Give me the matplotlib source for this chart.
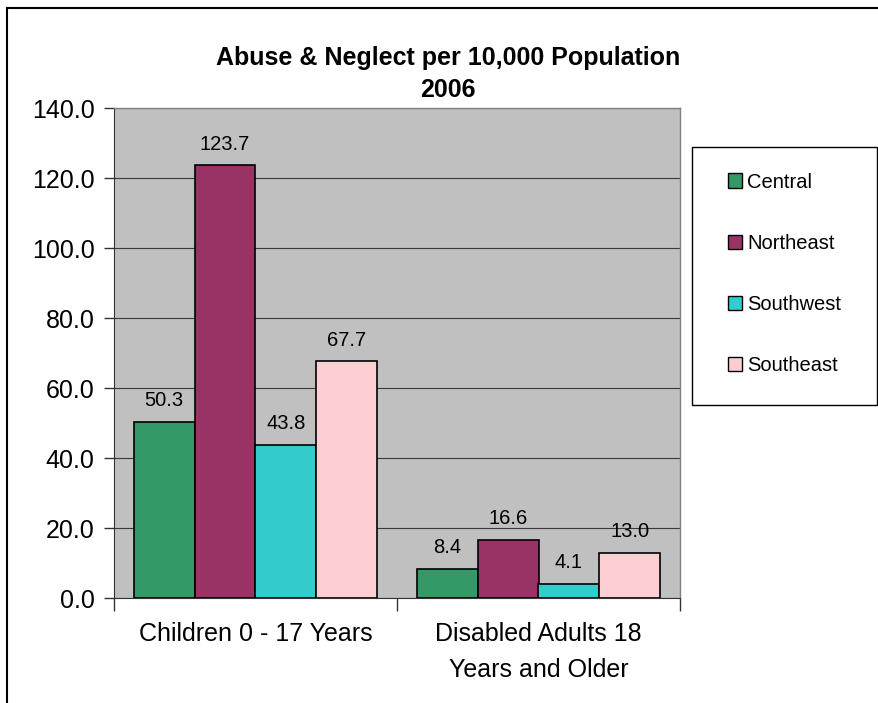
import matplotlib
matplotlib.use("Agg")
import matplotlib.pyplot as plt
from matplotlib.patches import Patch, Rectangle
from matplotlib.lines import Line2D
import numpy as np

plt.rcParams['font.family'] = ['Liberation Sans', 'DejaVu Sans']

categories = ["Children 0 - 17 Years", "Disabled Adults 18\nYears and Older"]
series_names = ["Central", "Northeast", "Southwest", "Southeast"]
values = {
    "Central": [50.3, 8.4],
    "Northeast": [123.7, 16.6],
    "Southwest": [43.8, 4.1],
    "Southeast": [67.7, 13.0],
}
colors = ["#339966", "#993366", "#33CCCC", "#FBCFD2"]
yticks = [0, 20, 40, 60, 80, 100, 120, 140]

fig = plt.figure(figsize=(8.79, 7.03), dpi=100)
ax = fig.add_axes([114/879, 1 - 598/703, (680-114)/879, (598-108)/703])
ax.set_facecolor("#C0C0C0")

x = np.arange(len(categories))
w = 0.215
for i, name in enumerate(series_names):
    pos = x + (i - 1.5) * w
    bars = ax.bar(pos, values[name], width=w, color=colors[i], edgecolor="black", linewidth=1.2, zorder=3)
    for b, v in zip(bars, values[name]):
        ax.text(b.get_x() + b.get_width()/2, v + 3.3, f"{v:.1f}", ha="center", va="bottom", fontsize=14.5, zorder=4)

ax.set_xlim(-0.5, 1.5)
ax.set_ylim(0, 140)
ax.set_yticks(yticks)
ax.set_yticklabels([f"{t:.1f}" for t in yticks], fontsize=18)
ax.yaxis.grid(True, color="#000000", linewidth=0.8, alpha=0.7, zorder=0)
ax.set_axisbelow(True)
ax.tick_params(axis="y", direction="out", length=7, width=1, color="#333333", pad=7)

ax.set_xticks(x)
ax.set_xticklabels(categories, fontsize=18, linespacing=1.65)
ax.tick_params(axis="x", which="major", length=0, pad=17)
ax.set_xticks([-0.5, 0.5, 1.5], minor=True)
ax.tick_params(axis="x", which="minor", direction="out", length=9, width=1, color="#333333")

for s in ["top", "right"]:
    ax.spines[s].set_color("#808080")
    ax.spines[s].set_linewidth(1)
ax.spines["left"].set_color("#333333")
ax.spines["bottom"].set_color("#333333")

fig.text(448/879, 1 - 58/703, "Abuse & Neglect per 10,000 Population", ha="center", va="center",
         fontsize=18, fontweight="bold")
fig.text(448/879, 1 - 90/703, "2006", ha="center", va="center", fontsize=18, fontweight="bold")

# legend box
fig.add_artist(Rectangle((692/879, 1 - 405/703), (877-692)/879, (405-147)/703,
                         transform=fig.transFigure, facecolor="white", edgecolor="black", linewidth=1, zorder=1))
handles = [Patch(facecolor=c, edgecolor="black", linewidth=1) for c in colors]
leg = fig.legend(handles, series_names, loc="center left",
                 bbox_to_anchor=(728/879, 1 - 274/703), fontsize=14.5,
                 handlelength=0.7, handleheight=0.7, handletextpad=0.25,
                 labelspacing=2.1, borderpad=0, borderaxespad=0,
                 frameon=False)
leg.set_zorder(2)

# outer frame lines
fig.add_artist(Line2D([7/879, 1], [1 - 8/703, 1 - 8/703], color="black", linewidth=1.5, transform=fig.transFigure))
fig.add_artist(Line2D([7/879, 7/879], [0, 1 - 8/703], color="black", linewidth=1.5, transform=fig.transFigure))

fig.savefig("out.png", dpi=100)
